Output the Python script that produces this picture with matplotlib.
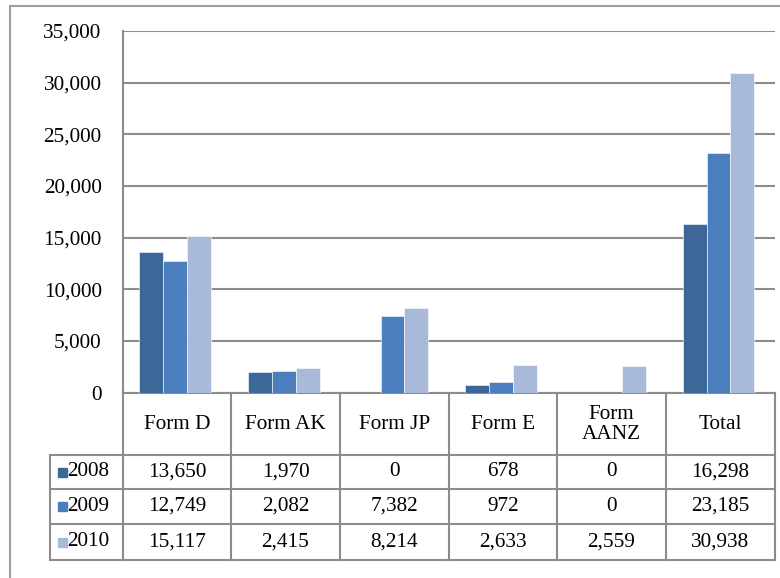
import matplotlib.pyplot as plt
from matplotlib.lines import Line2D
from matplotlib.patches import Rectangle
import numpy as np

# data
categories = ["Form D", "Form AK", "Form JP", "Form E", "Form\nAANZ", "Total"]
years = ["2008", "2009", "2010"]
v2008 = [13650, 1970, 0, 678, 0, 16298]
v2009 = [12749, 2082, 7382, 972, 0, 23185]
v2010 = [15117, 2415, 8214, 2633, 2559, 30938]
colors = ["#3d6799", "#4a7ebd", "#a9b9d9"]

plt.rcParams["font.family"] = ["Liberation Serif", "DejaVu Serif"]
fs = 15.3

W, H = 780, 578
fig = plt.figure(figsize=(W / 100, H / 100), dpi=100)

# pixel layout
px_left, px_right = 122.5, 774.5
px_top, px_zero = 31, 392.5
px_leg = 50
row_edges = [392.5, 455, 489, 524, 560]
grey = "#8c8c8c"

ax = fig.add_axes([px_left / W, 1 - px_zero / H, (px_right - px_left) / W, (px_zero - px_top) / H])
n = len(categories)
x = np.arange(n)
bw = 0.22
series = [v2008, v2009, v2010]
for i, vals in enumerate(series):
    ax.bar(x + (i - 1) * bw - 0.015, vals, width=bw, color=colors[i], edgecolor="#ffffff",
           linewidth=0.4, zorder=3)
ax.set_xlim(-0.5, n - 0.5)
ax.set_ylim(0, 35000)
ax.set_yticks(np.arange(0, 35001, 5000))
ax.set_yticklabels([f"{int(t):,}" for t in ax.get_yticks()], fontsize=fs)
ax.tick_params(axis="y", length=0, pad=15)
ax.set_xticks([])
ax.yaxis.grid(True, color=grey, linewidth=1.5, zorder=0)
for s in ["top", "right", "bottom"]:
    ax.spines[s].set_visible(False)
ax.spines["left"].set_color(grey)
ax.spines["left"].set_linewidth(1.5)
ax.set_facecolor("none")

# overlay for table and border in pixel coords
ov = fig.add_axes([0, 0, 1, 1], zorder=-1)
ov.set_xlim(0, W)
ov.set_ylim(H, 0)
ov.axis("off")

lw = 1.5
col_edges = np.linspace(px_left, px_right, n + 1)
# horizontal table lines
ov.add_line(Line2D([px_left, px_right], [row_edges[0]] * 2, color=grey, lw=lw))
for y in row_edges[1:]:
    ov.add_line(Line2D([px_leg, px_right], [y, y], color=grey, lw=lw))
# vertical table lines
for xe in col_edges:
    ov.add_line(Line2D([xe, xe], [row_edges[0], row_edges[-1]], color=grey, lw=lw))
ov.add_line(Line2D([px_leg, px_leg], [row_edges[1], row_edges[-1]], color=grey, lw=lw))

# header
for j, c in enumerate(categories):
    cx = (col_edges[j] + col_edges[j + 1]) / 2
    ov.text(cx, (row_edges[0] + row_edges[1]) / 2 + 1, c, ha="center", va="center",
            fontsize=fs, linespacing=1.1)
# rows
for i, vals in enumerate(series):
    cy = (row_edges[i + 1] + row_edges[i + 2]) / 2
    ov.add_patch(Rectangle((58, cy - 4.5), 9, 9, color=colors[i]))
    ov.text(67, cy, years[i], ha="left", va="center", fontsize=fs)
    for j, v in enumerate(vals):
        cx = (col_edges[j] + col_edges[j + 1]) / 2
        ov.text(cx, cy, f"{v:,}", ha="center", va="center", fontsize=fs)

# chart area border
ov.add_line(Line2D([10, W], [6, 6], color="#a0a0a0", lw=1.5))
ov.add_line(Line2D([10, 10], [6, H], color="#a0a0a0", lw=1.5))

fig.savefig("out.png", dpi=100)
